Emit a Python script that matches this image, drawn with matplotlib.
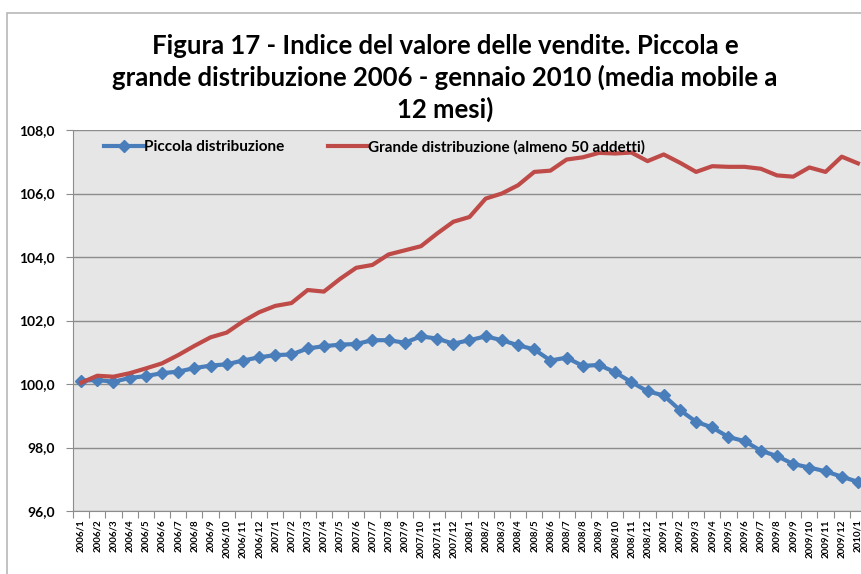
import matplotlib.pyplot as plt
import matplotlib.patches as patches
import numpy as np

plt.rcParams['font.family'] = ['Lato', 'DejaVu Sans']

# monthly labels 2006/1 .. 2010/1
months = ["%d/%d" % (y, m) for y in range(2006, 2010) for m in range(1, 13)] + ["2010/1"]

piccola = [100.10, 100.13, 100.07, 100.19, 100.25, 100.34, 100.39, 100.50, 100.58, 100.62,
           100.74, 100.84, 100.91, 100.93, 101.12, 101.19, 101.24, 101.26, 101.38, 101.38,
           101.30, 101.50, 101.43, 101.27, 101.38, 101.50, 101.38, 101.22, 101.09, 100.74,
           100.83, 100.57, 100.60, 100.37, 100.06, 99.77, 99.64, 99.18, 98.81, 98.63,
           98.33, 98.20, 97.90, 97.73, 97.48, 97.37, 97.25, 97.08, 96.92]

grande = [100.04, 100.26, 100.23, 100.34, 100.49, 100.65, 100.91, 101.20, 101.47, 101.62,
          101.97, 102.26, 102.46, 102.55, 102.96, 102.91, 103.31, 103.66, 103.75, 104.08,
          104.21, 104.34, 104.74, 105.11, 105.26, 105.84, 106.00, 106.26, 106.68, 106.72,
          107.07, 107.14, 107.28, 107.26, 107.29, 107.02, 107.23, 106.97, 106.68, 106.86,
          106.84, 106.84, 106.78, 106.57, 106.53, 106.82, 106.68, 107.16, 106.95]

yticks = [96, 98, 100, 102, 104, 106, 108]
ytick_labels = ["96,0", "98,0", "100,0", "102,0", "104,0", "106,0", "108,0"]

W, H = 862, 574
fig = plt.figure(figsize=(W / 100, H / 100), dpi=100)

# outer chart border (runs off the right and bottom edges)
fig.patches.append(patches.Rectangle((7 / W, -0.05), 1.2, 1 - 13 / H + 0.05,
                                     transform=fig.transFigure, fill=False,
                                     edgecolor='#b8b8b8', linewidth=1.2))

ax = fig.add_axes([73 / W, 1 - 511 / H, (866 - 73) / W, (511 - 130) / H])
ax.set_facecolor('#e6e6e6')

x = np.arange(len(months))
ax.plot(x, piccola, color='#4a7ebb', linewidth=3, marker='D', markersize=6.5,
        markeredgecolor='#4a7ebb', label='Piccola distribuzione', zorder=3)
ax.plot(x, grande, color='#be4b48', linewidth=3,
        label='Grande distribuzione (almeno 50 addetti)', zorder=3)

ax.set_xlim(-0.5, len(months) - 0.5)
ax.set_ylim(96, 108)
ax.set_yticks(yticks)
ax.set_yticklabels(ytick_labels, fontsize=10, fontweight='bold')
ax.yaxis.grid(True, color='#8c8c8c', linewidth=1)
ax.set_axisbelow(True)

# Excel-style: ticks between categories, labels centred on categories
ax.set_xticks(np.arange(len(months) + 1) - 0.5)
ax.set_xticklabels([])
ax.set_xticks(x, minor=True)
ax.set_xticklabels(months, minor=True, rotation=90, fontsize=7, fontweight='bold')
ax.tick_params(axis='x', which='minor', length=0, pad=6)
ax.tick_params(axis='x', which='major', length=5, color='#8c8c8c')
ax.tick_params(axis='y', length=5, color='#8c8c8c', pad=8)

for side in ['top', 'right']:
    ax.spines[side].set_visible(False)
ax.spines['left'].set_color('#8c8c8c')
ax.spines['bottom'].set_color('#8c8c8c')

ax.legend(loc='upper left', bbox_to_anchor=(0.022, 1.01), ncol=2, frameon=False,
          prop={'weight': 'bold', 'size': 11}, handlelength=2.6, handletextpad=0.0,
          columnspacing=2.9, markerscale=1.0)

fig.text(445 / W, 1 - 78 / H,
         "Figura 17 - Indice del valore delle vendite. Piccola e\n"
         "grande distribuzione 2006 - gennaio 2010 (media mobile a\n12 mesi)",
         ha='center', va='center', fontsize=18.5, fontweight='bold', linespacing=1.3)

fig.savefig('out.png', dpi=100)
